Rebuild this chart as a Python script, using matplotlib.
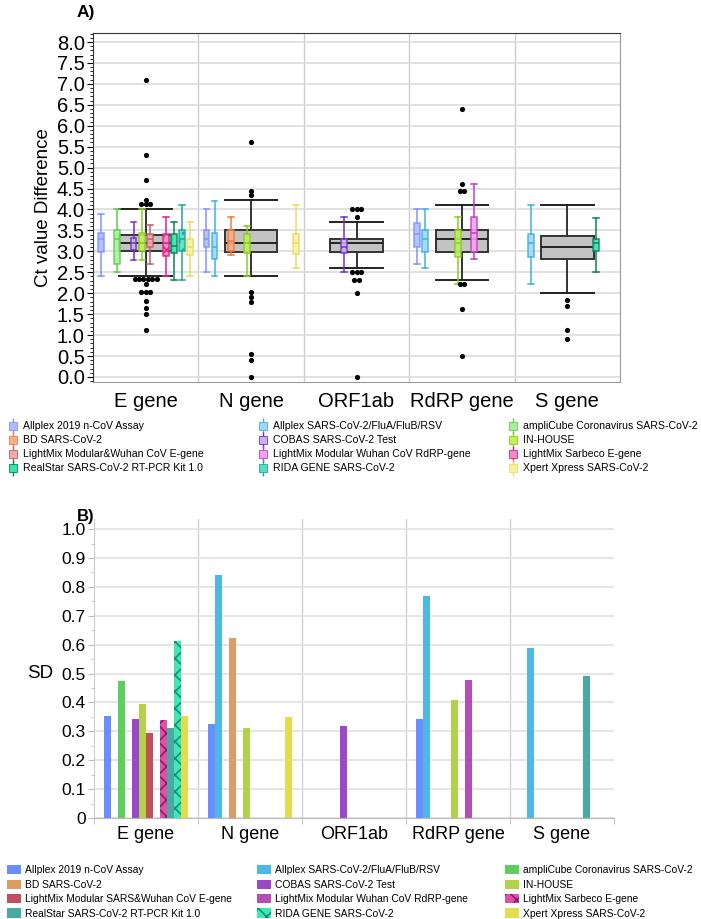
import numpy as np
import matplotlib
matplotlib.use("Agg")
import matplotlib.pyplot as plt
from matplotlib.lines import Line2D
from matplotlib.patches import Patch
from matplotlib.legend_handler import HandlerTuple
from matplotlib.ticker import MultipleLocator

plt.rcParams['font.family'] = ['Liberation Sans', 'DejaVu Sans']
plt.rcParams['hatch.linewidth'] = 1.2

genes = ['E gene', 'N gene', 'ORF1ab', 'RdRP gene', 'S gene']
kits_a = ['Allplex 2019 n-CoV Assay', 'Allplex SARS-CoV-2/FluA/FluB/RSV',
          'ampliCube Coronavirus SARS-CoV-2', 'BD SARS-CoV-2',
          'COBAS SARS-CoV-2 Test', 'IN-HOUSE',
          'LightMix Modular&Wuhan CoV E-gene', 'LightMix Modular Wuhan CoV RdRP-gene',
          'LightMix Sarbeco E-gene', 'RealStar SARS-CoV-2 RT-PCR Kit 1.0',
          'RIDA GENE SARS-CoV-2', 'Xpert Xpress SARS-CoV-2']
kits_b = ['Allplex 2019 n-CoV Assay', 'Allplex SARS-CoV-2/FluA/FluB/RSV',
          'ampliCube Coronavirus SARS-CoV-2', 'BD SARS-CoV-2',
          'COBAS SARS-CoV-2 Test', 'IN-HOUSE',
          'LightMix Modular SARS&Wuhan CoV E-gene', 'LightMix Modular Wuhan CoV RdRP-gene',
          'LightMix Sarbeco E-gene', 'RealStar SARS-CoV-2 RT-PCR Kit 1.0',
          'RIDA GENE SARS-CoV-2', 'Xpert Xpress SARS-CoV-2']

# panel A colours (box fill, box line)
face_a = ['#aebcff', '#9bd8f4', '#a9eea0', '#f7ae8c', '#c5b2f3', '#bff05a',
          '#f2a9a9', '#f3a2ef', '#f08cc0', '#34e6a8', '#4fe0c0', '#f7f0a0']
edge_a = ['#8095ff', '#3fb0e6', '#62cc52', '#f07a3a', '#7432c2', '#8ccc22',
          '#c2606a', '#c040c0', '#e0208f', '#0e8060', '#1fa890', '#e6de60']
# panel B colours
col_b = ['#6a8dff', '#4fb8e2', '#5ccf5c', '#dd9c62', '#9a48c8', '#b3d24a',
         '#c0505e', '#b64cb6', '#e050a8', '#48aaa0', '#40e8b4', '#e2dc4e']

# pooled box per gene
pool_lo = [2.41, 2.41, 2.61, 2.32, 2.01]
pool_q1 = [3.0, 2.99, 2.99, 2.99, 2.82]
pool_med = [3.2, 3.2, 3.2, 3.29, 3.1]
pool_q3 = [3.4, 3.51, 3.29, 3.51, 3.37]
pool_hi = [4.0, 4.22, 3.71, 4.1, 4.1]
fliers_e = [7.1, 5.3, 4.7, 4.22, 4.13, 4.13, 4.13,
            2.34, 2.34, 2.34, 2.34, 2.34, 2.34, 2.22, 2.03, 2.03, 2.03,
            1.81, 1.64, 1.5, 1.12]
fliers_n = [5.6, 4.45, 4.35, 2.03, 1.9, 1.78, 0.55, 0.41, 0.0]
fliers_o = [4.01, 4.01, 4.01, 3.81, 2.51, 2.51, 2.51, 2.32, 2.32, 2.01, 0.0]
fliers_r = [6.4, 4.6, 4.45, 4.45, 2.22, 2.22, 1.62, 0.5]
fliers_s = [1.84, 1.7, 1.12, 0.91]

# per-kit boxes
box_gene = [0, 0, 0, 0, 0, 0, 0, 0, 0,
            1, 1, 1, 1, 1,
            2,
            3, 3, 3, 3,
            4, 4]
box_kit = [0, 2, 4, 5, 6, 8, 9, 10, 11,
           0, 1, 3, 5, 11,
           4,
           0, 1, 5, 7,
           1, 9]
box_lo = [2.41, 2.51, 2.79, 2.79, 2.71, 2.41, 2.32, 2.32, 2.41,
          2.51, 2.41, 2.91, 2.41, 2.61,
          2.51,
          2.71, 2.61, 2.21, 2.81,
          2.21, 2.5]
box_q1 = [2.99, 2.71, 3.03, 3.0, 3.11, 2.9, 2.95, 3.01, 2.91,
          3.11, 2.81, 3.01, 2.97, 2.93,
          2.95,
          3.11, 2.99, 2.86, 2.99,
          2.86, 3.0]
box_med = [3.29, 3.3, 3.21, 3.19, 3.29, 3.2, 3.13, 3.3, 3.11,
           3.3, 3.11, 3.25, 3.19, 3.19,
           3.11,
           3.41, 3.29, 3.2, 3.43,
           3.19, 3.2]
box_q3 = [3.45, 3.51, 3.33, 3.43, 3.41, 3.41, 3.41, 3.51, 3.29,
          3.51, 3.43, 3.51, 3.41, 3.41,
          3.29,
          3.67, 3.51, 3.51, 3.81,
          3.41, 3.3]
box_hi = [3.9, 4.0, 3.71, 4.0, 3.63, 3.81, 3.71, 4.1, 3.71,
          4.0, 4.2, 3.81, 3.61, 4.1,
          3.81,
          4.0, 4.0, 3.81, 4.6,
          4.1, 3.8]

# panel B: SD per kit for each gene (nan = not used)
nan = np.nan
sd_e = [0.353, nan, 0.475, nan, 0.343, 0.395, 0.293, nan, 0.339, 0.311, 0.612, 0.352]
sd_n = [0.327, 0.84, nan, 0.622, nan, 0.313, nan, nan, nan, nan, nan, 0.348]
sd_o = [nan, nan, nan, nan, 0.32, nan, nan, nan, nan, nan, nan, nan]
sd_r = [0.344, 0.77, nan, nan, nan, 0.408, nan, 0.479, nan, nan, nan, nan]
sd_s = [nan, 0.59, nan, nan, nan, nan, nan, nan, nan, 0.49, nan, nan]

W, H = 701, 919
fig = plt.figure(figsize=(W / 100, H / 100), dpi=100)

# ---------------- panel A ----------------
axA = fig.add_axes([93 / W, 1 - 382 / H, 527 / W, 349 / H])
axA.set_xlim(-0.5, 4.5)
axA.set_ylim(-0.12, 8.215)
axA.yaxis.set_major_locator(MultipleLocator(0.5))
axA.yaxis.set_minor_locator(MultipleLocator(0.1))
axA.yaxis.set_major_formatter(matplotlib.ticker.FormatStrFormatter('%.1f'))
axA.grid(axis='y', color='#dcdcdc', lw=1.2, zorder=0)
for xs in np.arange(0.5, 4.5, 1):
    axA.axvline(xs, color='#cccccc', lw=1, zorder=0)
axA.tick_params(axis='y', labelsize=14.5, length=4, pad=2)
axA.tick_params(axis='y', which='minor', length=2.5)
axA.set_ylabel('Ct value Difference', fontsize=13.5, labelpad=3)
for s in axA.spines.values():
    s.set_color('#333333')
axA.spines['bottom'].set_color('#999999')
axA.spines['right'].set_color('#999999')

stats = []
for g in range(5):
    stats.append(dict(whislo=pool_lo[g], q1=pool_q1[g], med=pool_med[g],
                      q3=pool_q3[g], whishi=pool_hi[g], fliers=[]))
axA.bxp(stats, positions=range(5), widths=0.5, capwidths=0.5, patch_artist=True,
        showfliers=False, manage_ticks=False,
        boxprops=dict(facecolor='#c3c3c3', edgecolor='#333333', lw=1.4),
        medianprops=dict(color='#222222', lw=1.4),
        whiskerprops=dict(color='#333333', lw=1.4),
        capprops=dict(color='#222222', lw=1.4), zorder=2)

slot = 0.0771
for i in range(len(box_gene)):
    k = box_kit[i]
    x = box_gene[i] + (k - 5.5) * slot
    st = [dict(whislo=box_lo[i], q1=box_q1[i], med=box_med[i], q3=box_q3[i],
               whishi=box_hi[i], fliers=[])]
    hatch = 'xx' if k == 8 else ('..' if k == 10 else None)
    axA.bxp(st, positions=[x], widths=0.055, capwidths=0.055, patch_artist=True,
            showfliers=False, manage_ticks=False,
            boxprops=dict(facecolor=face_a[k], edgecolor=edge_a[k], lw=1.1,
                          alpha=0.9, hatch=hatch),
            medianprops=dict(color=edge_a[k], lw=1.1),
            whiskerprops=dict(color=edge_a[k], lw=1.1),
            capprops=dict(color=edge_a[k], lw=1.1), zorder=3)

# outliers; equal values are spread side by side
for g, fl in enumerate([fliers_e, fliers_n, fliers_o, fliers_r, fliers_s]):
    vals, counts = np.unique(fl, return_counts=True)
    for v, c in zip(vals, counts):
        xs = g + (np.arange(c) - (c - 1) / 2) * 0.042
        axA.scatter(xs, [v] * c, s=14, color='black', zorder=5, lw=0)

axA.set_xticks(range(5))
axA.set_xticklabels(genes, fontsize=14.5)
axA.tick_params(axis='x', length=0, pad=7)

fig.text(86 / W, 1 - 13 / H, 'A)', fontsize=12.5, fontweight='bold',
         ha='center', va='center')

handles_a = []
for k in range(12):
    handles_a.append((Line2D([], [], marker='|', ls='none', markersize=11,
                             mec=edge_a[k], mew=1.0),
                      Line2D([], [], marker='s', ls='none', markersize=6,
                             mfc=face_a[k], mec=edge_a[k], mew=0.6)))
col_x = [2 / W, 252 / W, 502 / W]
for c in range(3):
    idx = [r * 3 + c for r in range(4)]
    fig.legend([handles_a[i] for i in idx], [kits_a[i] for i in idx],
               loc='upper left', bbox_to_anchor=(col_x[c], 1 - 416 / H),
               frameon=False, fontsize=7.6, handlelength=1.0, handletextpad=0.5,
               labelspacing=0.38, borderpad=0,
               handler_map={tuple: HandlerTuple(ndivide=1)})

# ---------------- panel B ----------------
axB = fig.add_axes([94 / W, 1 - 818 / H, 520 / W, 299 / H])
axB.set_xlim(-0.5, 4.5)
axB.set_ylim(0, 1.035)
axB.yaxis.set_major_locator(MultipleLocator(0.1))
axB.yaxis.set_minor_locator(MultipleLocator(0.05))
axB.yaxis.set_major_formatter(
    matplotlib.ticker.FuncFormatter(lambda v, p: '0' if abs(v) < 1e-9 else '%.1f' % v))
axB.grid(axis='y', color='#e0e0e0', lw=1.2, zorder=0)
for xs in np.arange(0.5, 4.5, 1):
    axB.axvline(xs, color='#d0d0d0', lw=1, zorder=0)
axB.set_xticks(range(5))
axB.set_xticklabels(genes, fontsize=13)
axB.set_xticks(np.arange(-0.5, 4.6, 1), minor=True)
axB.tick_params(axis='x', which='major', length=0, pad=6)
axB.tick_params(axis='x', which='minor', length=4, color='#bbbbbb')
axB.tick_params(axis='y', labelsize=12.5, length=4, color='#bbbbbb', pad=2)
axB.tick_params(axis='y', which='minor', length=2.5, color='#bbbbbb')
axB.spines['top'].set_visible(False)
axB.spines['right'].set_visible(False)
axB.spines['left'].set_color('#cccccc')
axB.spines['bottom'].set_color('#bbbbbb')
fig.text(40 / W, 1 - 674 / H, 'SD', fontsize=13.5, ha='center', va='center')
fig.text(86 / W, 1 - 517 / H, 'B)', fontsize=12, fontweight='bold',
         ha='center', va='center')

bw = 0.0676
sd_all = np.array([sd_e, sd_n, sd_o, sd_r, sd_s])
for k in range(12):
    xk = np.arange(5) + (k - 5.5) * bw
    hatch = 'xx' if k in (8, 10) else None
    ec = '#8a1d6a' if k == 8 else ('#14907a' if k == 10 else 'none')
    axB.bar(xk, sd_all[:, k], width=bw, color=col_b[k], hatch=hatch,
            edgecolor=ec, lw=0, zorder=2)

handles_b = []
for k in range(12):
    hatch = 'xx' if k in (8, 10) else None
    ec = '#8a1d6a' if k == 8 else ('#14907a' if k == 10 else col_b[k])
    handles_b.append(Patch(facecolor=col_b[k], edgecolor=ec, hatch=hatch, lw=0))
col_xb = [2 / W, 252 / W, 500 / W]
for c in range(3):
    idx = [r * 3 + c for r in range(4)]
    fig.legend([handles_b[i] for i in idx], [kits_b[i] for i in idx],
               loc='upper left', bbox_to_anchor=(col_xb[c], 1 - 860 / H),
               frameon=False, fontsize=7.4, handlelength=1.3, handleheight=1.0,
               handletextpad=0.4, labelspacing=0.42, borderpad=0)

fig.savefig('out.png', dpi=100)
